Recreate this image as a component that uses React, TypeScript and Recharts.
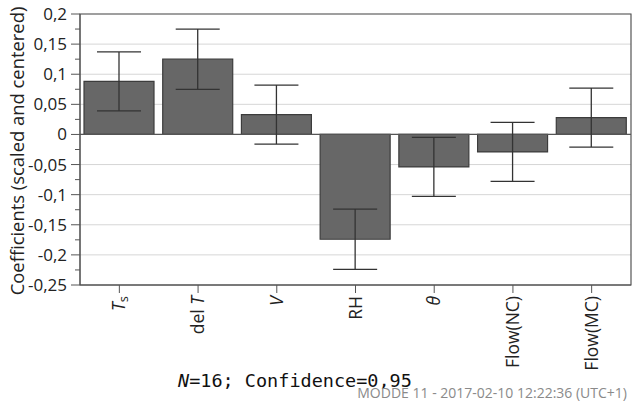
import React from "react";
import { Bar, BarChart, CartesianGrid, ErrorBar, ReferenceArea, ReferenceLine, XAxis, YAxis } from "recharts";

// Coefficient plot (MODDE)
const factors = ["Ts", "delT", "V", "RH", "theta", "Flow(NC)", "Flow(MC)"];
const coefficients = [0.088, 0.125, 0.033, -0.174, -0.054, -0.029, 0.028];
const confInterval = [0.049, 0.05, 0.049, 0.05, 0.049, 0.049, 0.049];

const majorTicks = [-0.25, -0.2, -0.15, -0.1, -0.05, 0, 0.05, 0.1, 0.15, 0.2];
const minorTicks = [-0.225, -0.175, -0.125, -0.075, -0.025, 0.025, 0.075, 0.125, 0.175];

const data = factors.map((name, i) => ({ name, coef: coefficients[i], ci: confInterval[i] }));
const allTicks = [...majorTicks, ...minorTicks].sort((a, b) => a - b);

const FONT = "'Open Sans', sans-serif";
const AXIS = "#555";

const fmt = (v: number) => String(Math.round(v * 100) / 100).replace(".", ",");

const YTick = (props: any) => {
  const { x, y, payload } = props;
  const v = payload.value;
  const major = majorTicks.some((m) => Math.abs(m - v) < 1e-9);
  return (
    <g>
      <line x1={x - (major ? 9 : 5)} x2={x} y1={y} y2={y} stroke={AXIS} />
      {major && (
        <text x={x - 13} y={y} dy="0.35em" textAnchor="end" fontFamily={FONT} fontSize={17} fill="#222">
          {fmt(v)}
        </text>
      )}
    </g>
  );
};

// factor names with italic symbols
const renderName = (name: string) => {
  switch (name) {
    case "Ts":
      return [
        <tspan key="a" fontStyle="italic">T</tspan>,
        <tspan key="b" fontSize={13} dy={3}>s</tspan>,
      ];
    case "delT":
      return [<tspan key="a">del </tspan>, <tspan key="b" fontStyle="italic">T</tspan>];
    case "V":
      return <tspan fontStyle="italic">V</tspan>;
    case "theta":
      return <tspan fontStyle="italic">θ</tspan>;
    default:
      return name;
  }
};

const XTick = (props: any) => {
  const { x, y, payload } = props;
  const ty = y + 11;
  return (
    <g>
      <line x1={x} x2={x} y1={y} y2={y + 8} stroke={AXIS} />
      <text
        x={x}
        y={ty}
        dy="0.35em"
        textAnchor="end"
        transform={`rotate(-90, ${x}, ${ty})`}
        fontFamily={FONT}
        fontSize={17.5}
        fill="#222"
      >
        {renderName(payload.value)}
      </text>
    </g>
  );
};

export default function App() {
  return (
    <div style={{ position: "absolute", left: 0, top: 0, width: 632, height: 404, background: "#fff" }}>
      <BarChart width={632} height={404} data={data} margin={{ top: 14, right: 1, bottom: 0, left: 0 }}>
        <CartesianGrid horizontal vertical={false} horizontalValues={majorTicks} stroke="#d6d6d6" />
        <XAxis
          dataKey="name"
          height={119}
          interval={0}
          tickSize={0}
          tickMargin={0}
          tickLine={false}
          axisLine={{ stroke: AXIS }}
          tick={<XTick />}
        />
        <YAxis
          width={80}
          domain={[-0.25, 0.2]}
          ticks={allTicks}
          interval={0}
          allowDataOverflow
          tickSize={0}
          tickMargin={0}
          tickLine={false}
          axisLine={{ stroke: AXIS }}
          tick={<YTick />}
        />
        <ReferenceArea y1={-0.25} y2={0.2} fill="none" stroke={AXIS} strokeWidth={1.2} />
        <ReferenceLine y={0} stroke={AXIS} strokeWidth={1.2} />
        <Bar dataKey="coef" barSize={70} fill="#676767" stroke="#3c3c3c" strokeWidth={1.2} isAnimationActive={false}>
          <ErrorBar dataKey="ci" width={22} stroke="#333" strokeWidth={1.3} />
        </Bar>
      </BarChart>
      <svg width={632} height={404} style={{ position: "absolute", left: 0, top: 0, pointerEvents: "none" }}>
        <text
          x={18}
          y={151}
          transform="rotate(-90, 18, 151)"
          textAnchor="middle"
          dy="0.35em"
          fontFamily={FONT}
          fontSize={18.4}
          fill="#222"
        >
          Coefficients (scaled and centered)
        </text>
        <text x={178} y={387} fontFamily="'DejaVu Sans Mono', monospace" fontSize={18.5} fill="#111">
          <tspan fontStyle="italic">N</tspan>=16; Confidence=0,95
        </text>
        <text x={627} y={398} textAnchor="end" fontFamily={FONT} fontSize={14} fill="#8a8a8a">
          MODDE 11 - 2017-02-10 12:22:36 (UTC+1)
        </text>
      </svg>
    </div>
  );
}
